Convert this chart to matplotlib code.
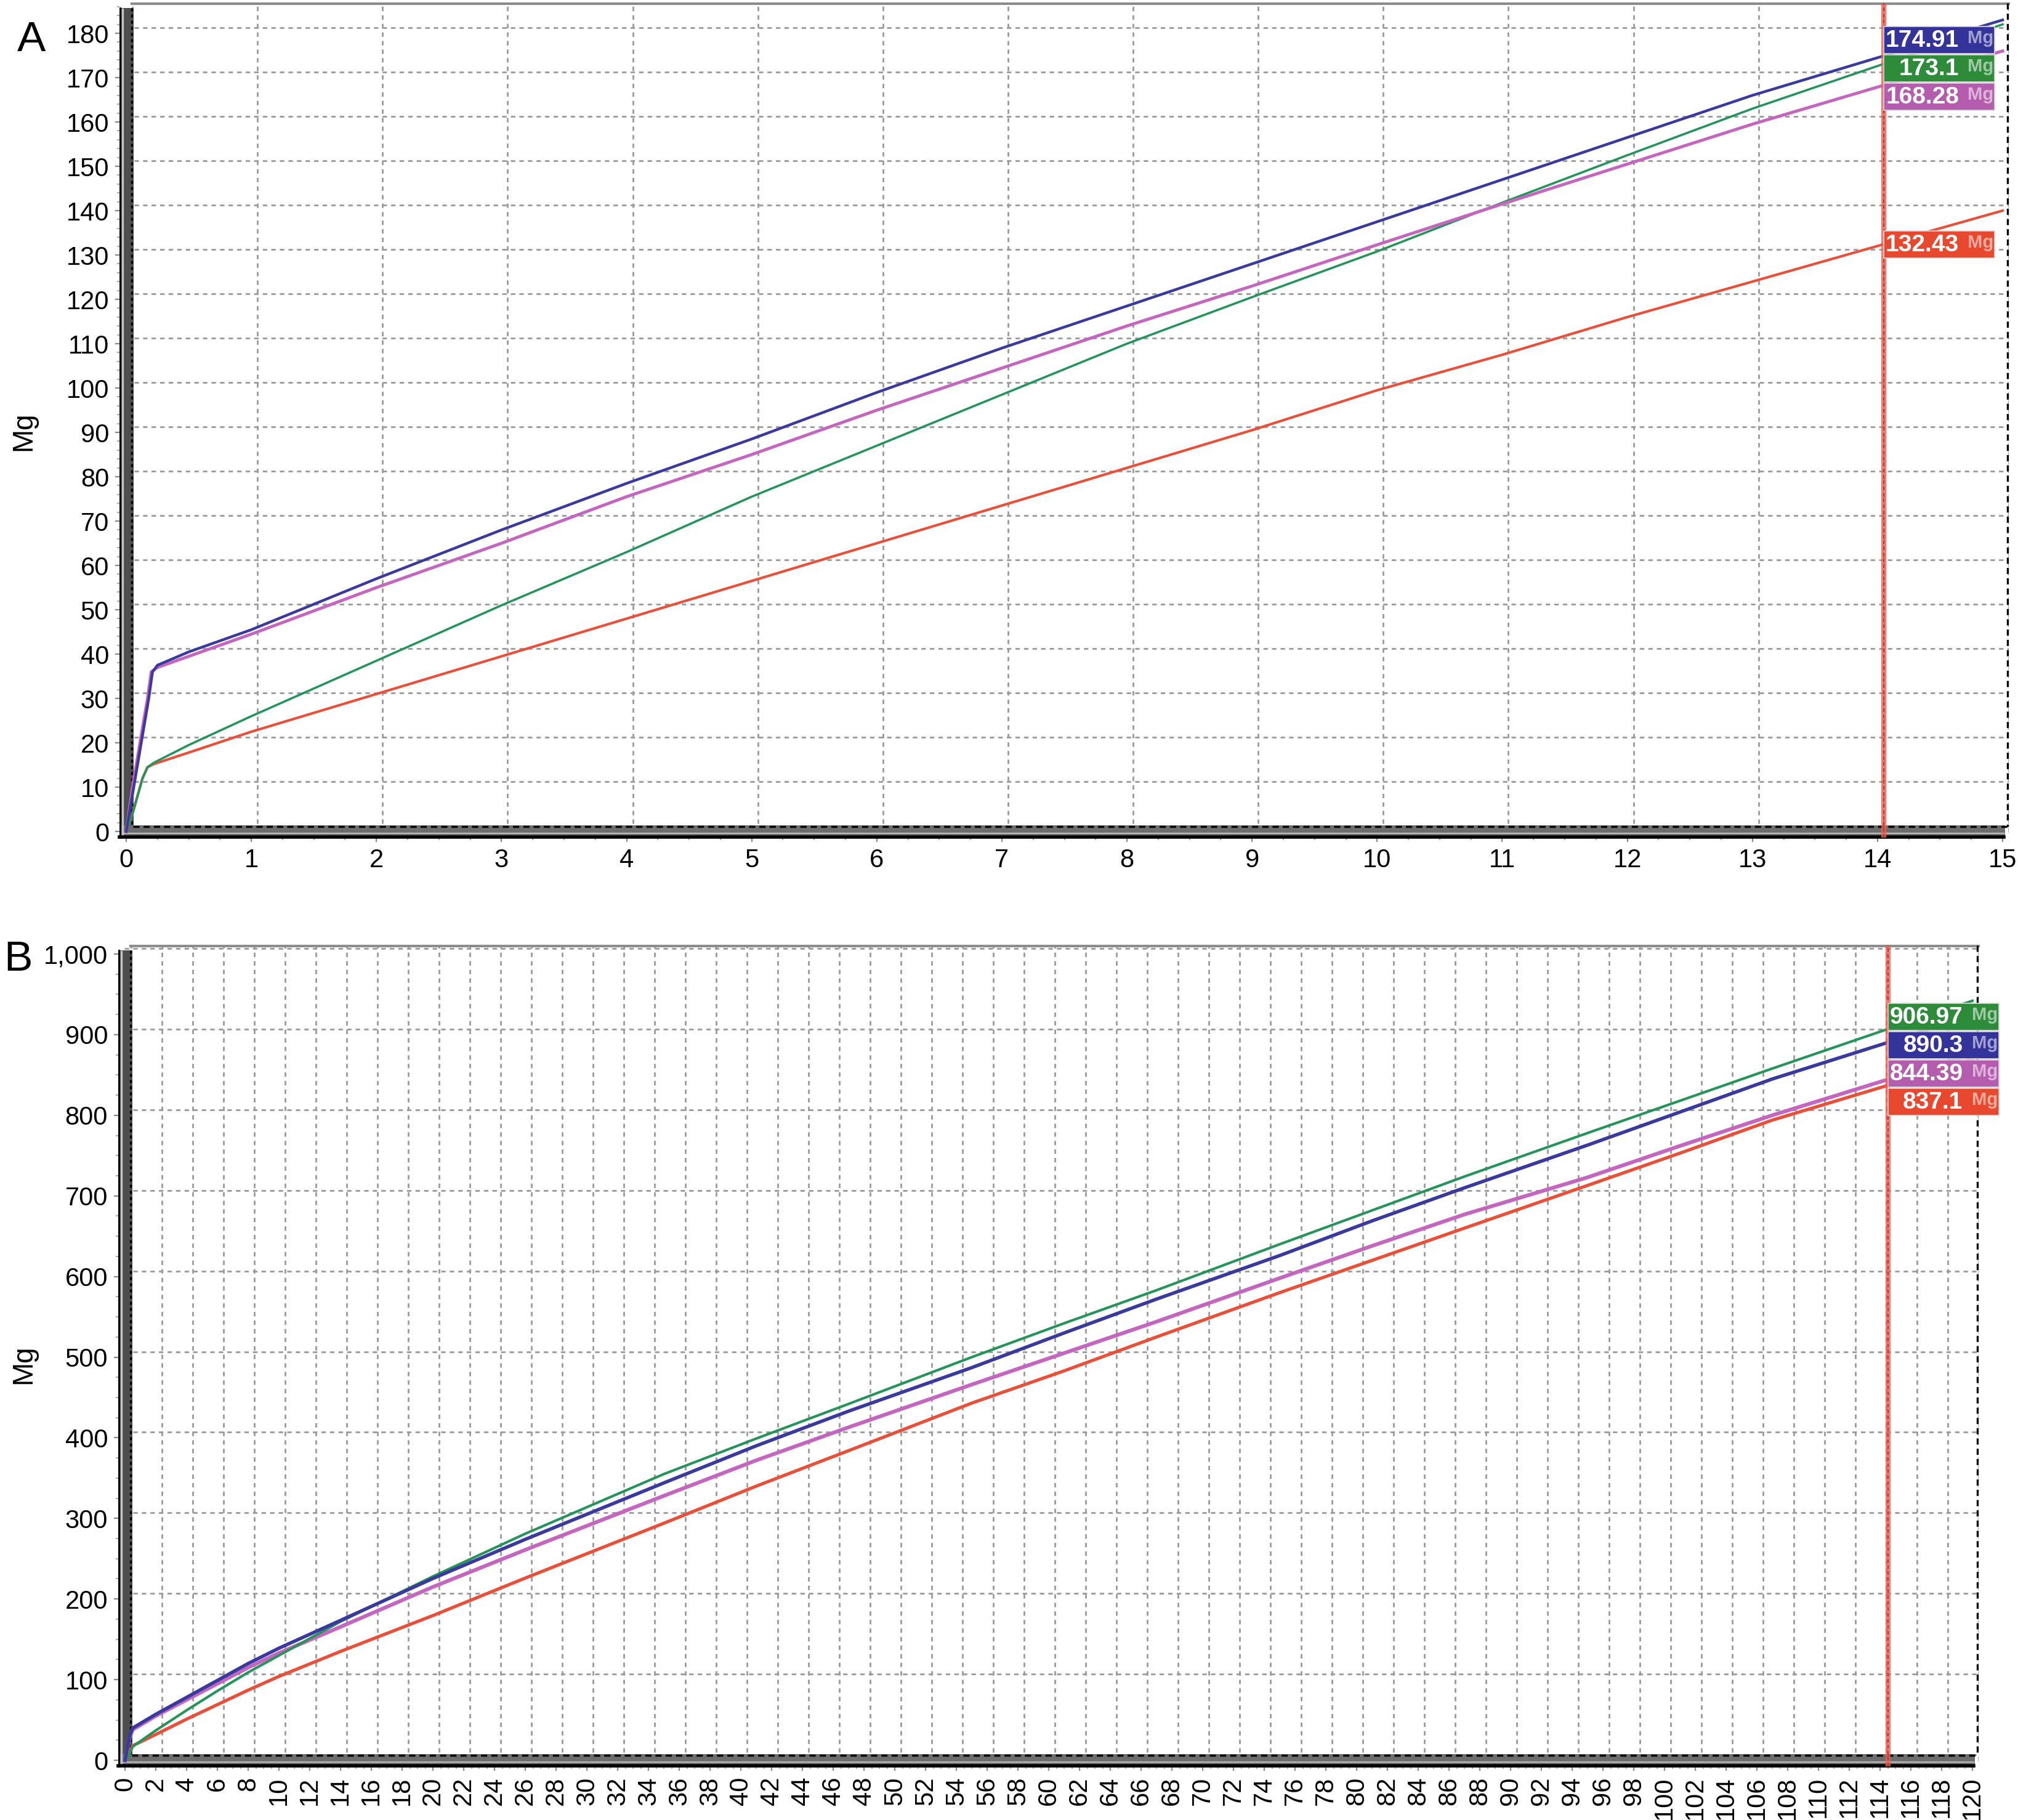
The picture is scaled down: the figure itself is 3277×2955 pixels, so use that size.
import matplotlib
matplotlib.use("Agg")
import matplotlib.pyplot as plt
import matplotlib.transforms as mtransforms
from matplotlib.patches import Rectangle
from matplotlib.ticker import MultipleLocator, FuncFormatter

W, H, DPI = 3277, 2955, 200

# ---- panel A (0-15) ----
a_blue_x = [0.0, 0.06, 0.12, 0.18, 0.21, 0.25, 0.5, 1, 2, 3, 4, 5, 6, 7, 8, 9, 10, 11, 12, 13, 14.05, 15]
a_blue_y = [0, 10, 20, 30, 36, 37.5, 40.5, 45.5, 57, 68, 78.5, 88.5, 99, 109, 118.5, 128, 137.5, 147, 156.5, 166, 174.91, 183]
a_mag_x = [0.0, 0.05, 0.11, 0.17, 0.2, 0.25, 0.5, 1, 2, 3, 4, 5, 6, 7, 8, 9, 10, 11, 12, 13, 14.05, 15]
a_mag_y = [0, 10, 20, 30, 36, 37, 39.5, 44.5, 55, 65, 75.5, 85, 95, 104.5, 114, 123, 132.3, 141.5, 150.5, 159.5, 168.28, 176]
a_green_x = [0.0, 0.04, 0.09, 0.13, 0.17, 0.22, 0.5, 1, 2, 3, 4, 5, 6, 7, 8, 9, 10, 11, 12, 13, 14.05, 15]
a_green_y = [0, 3, 8, 12, 14.5, 15.5, 19.5, 26, 38.5, 51, 63, 75.5, 87, 98.5, 110, 120.5, 130.8, 141.8, 152.5, 163, 173.1, 182]
a_red_x = [0.0, 0.04, 0.09, 0.13, 0.17, 0.22, 0.5, 1, 2, 3, 4, 5, 6, 7, 8, 9, 10, 11, 12, 13, 14.05, 15]
a_red_y = [0, 3, 8, 12, 14.5, 15.2, 17.8, 22.5, 31, 39.5, 48, 56.5, 65, 73.5, 82, 90.5, 99.5, 107.5, 116, 124, 132.43, 140]
a_cursor = 14.05
a_labels = [174.91, 173.1, 168.28, 132.43]   # blue, green, magenta, red

# ---- panel B (0-120) ----
b_x = [0, 0.3, 0.5, 2, 4, 6, 8, 10, 14, 20, 26, 35, 41, 47, 55, 61, 67, 75, 81, 87, 95, 101, 107, 114.5, 120]
b_blue = [0, 30, 40, 57, 78, 99, 120, 139, 173.5, 225.5, 274, 344, 390, 433, 487, 530, 572, 626, 669, 710, 763, 804, 845, 890.3, 924]
b_green = [0, 8, 17, 37, 62, 86, 109, 130, 172, 228, 281, 355, 399, 442, 500, 542, 583, 640, 682, 724, 778, 818, 858, 906.97, 942]
b_mag = [0, 28, 38, 55, 75, 95, 115, 133, 165.5, 215, 261, 328, 372, 413, 466, 505, 544, 598, 638, 677, 723, 762, 800, 844.39, 876]
b_red = [0, 10, 18, 32, 51, 69, 87, 104, 135, 179.5, 226, 294, 340, 384, 443, 483, 525, 580, 620, 660, 713, 753, 794, 837.1, 870]
b_cursor = 114.5
b_labels = [906.97, 890.3, 844.39, 837.1]   # green, blue, magenta, red

line_cols = {'blue': '#3a3a9e', 'green': '#25945a', 'mag': '#c466bf', 'red': '#e8503a'}
box_cols = {'blue': '#333399', 'green': '#2e8b3a', 'mag': '#b45cad', 'red': '#e8492e'}

plt.rcParams['font.family'] = ['Liberation Sans', 'DejaVu Sans']

fig = plt.figure(figsize=(W / DPI, H / DPI), dpi=DPI)
# pixel coords of the output image, y measured downwards
PX = mtransforms.Affine2D().scale(1 / W, -1 / H).translate(0, 1) + fig.transFigure
DISP = mtransforms.IdentityTransform()


def make_axes(box, xref, yref):
    left, top, right, bottom = box
    ax = fig.add_axes([left / W, 1 - bottom / H, (right - left) / W, (bottom - top) / H])
    (xv1, xp1), (xv2, xp2) = xref
    sx = (xp2 - xp1) / (xv2 - xv1)
    ax.set_xlim(xv1 + (left - xp1) / sx, xv1 + (right - xp1) / sx)
    (yv1, yp1), (yv2, yp2) = yref
    sy = (yp2 - yp1) / (yv2 - yv1)
    ax.set_ylim(yv1 + (bottom - yp1) / sy, yv1 + (top - yp1) / sy)
    for s in ax.spines.values():
        s.set_visible(False)
    return ax


def decorate(ax, box, xmaj, xmin, ymaj, ymin):
    left, top, right, bottom = box
    ax.xaxis.set_major_locator(MultipleLocator(xmaj))
    ax.xaxis.set_minor_locator(MultipleLocator(xmin))
    ax.yaxis.set_major_locator(MultipleLocator(ymaj))
    ax.yaxis.set_minor_locator(MultipleLocator(ymin))
    ax.tick_params(which='major', length=2.6, width=0.8, color='#888888',
                   labelsize=15, pad=3.5)
    ax.tick_params(which='minor', length=1.5, width=0.6, color='#999999')
    # dashed grid drawn on the shifted back wall
    off = mtransforms.ScaledTranslation(10 / DPI, 9 / DPI, fig.dpi_scale_trans)
    lo, hi = ax.get_xlim()
    for v in ax.get_xticks():
        if lo < v < hi:
            ax.plot([v, v], [0, 1], transform=ax.get_xaxis_transform() + off,
                    color='#9a9a9a', lw=1.0, dashes=(2.6, 2.4), zorder=1)
    lo, hi = ax.get_ylim()
    for v in ax.get_yticks():
        if lo < v < hi:
            ax.plot([0, 1], [v, v], transform=ax.get_yaxis_transform() + off,
                    color='#9a9a9a', lw=1.0, dashes=(2.6, 2.4), zorder=1)
    # 3d-like wall and floor
    kw = dict(transform=PX, clip_on=False)
    ax.add_patch(Rectangle((left, top + 8), 23, bottom - top - 8, fc='#4e4e4e', ec='none', zorder=1.5, **kw))
    ax.add_patch(Rectangle((left, bottom - 20), right - left - 6, 20, fc='#6d6d6d', ec='none', zorder=1.5, **kw))
    ax.plot([left + 1, left + 1], [top + 8, bottom], color='black', lw=1.0, zorder=1.6, **kw)
    ax.plot([left + 5, left + 5], [top + 10, bottom - 4], color='#c4c4c4', lw=1.2, zorder=1.6, **kw)
    ax.plot([left + 20, left + 20], [top + 8, bottom - 18], color='black', lw=1.2, dashes=(1.5, 1.5), zorder=1.6, **kw)
    ax.plot([left + 22, right], [bottom - 18, bottom - 18], color='black', lw=1.2, dashes=(3, 2), zorder=1.6, **kw)
    ax.plot([left + 8, right - 8], [bottom - 7, bottom - 7], color='#bdbdbd', lw=0.8, zorder=1.6, **kw)
    ax.plot([left, right - 8], [bottom - 1, bottom - 1], color='black', lw=2.0, zorder=1.6, **kw)
    ax.plot([left + 20, right], [top + 1, top + 1], color='#8c8c8c', lw=1.5, zorder=1.6, **kw)
    ax.plot([right - 2, right - 2], [top, bottom - 18], color='black', lw=1.2, dashes=(3, 2), zorder=1.6, **kw)


def stack(ys, pitch):
    order = sorted(range(len(ys)), key=lambda i: -ys[i])
    groups = [[i] for i in order]

    def centers(g):
        m = sum(ys[i] for i in g) / len(g)
        return [m + (len(g) - 1) / 2 * pitch - k * pitch for k in range(len(g))]

    changed = True
    while changed:
        changed = False
        for k in range(len(groups) - 1):
            if centers(groups[k])[-1] - centers(groups[k + 1])[0] < pitch:
                groups[k] = groups[k] + groups[k + 1]
                del groups[k + 1]
                changed = True
                break
    pos = {}
    for g in groups:
        for i, c in zip(g, centers(g)):
            pos[i] = c
    return [pos[i] for i in range(len(ys))]


def value_boxes(ax, xc, values, keys):
    # cursor readout boxes, stacked so they do not overlap
    pts = [ax.transData.transform((xc, v)) for v in values]
    x0 = pts[0][0]
    ycs = stack([p[1] for p in pts], 46)
    for v, k, yc in zip(values, keys, ycs):
        ax.add_patch(Rectangle((x0, yc - 22), 180, 44, transform=DISP, clip_on=False,
                               fc=box_cols[k], ec='#d8d8d8', lw=0.6, zorder=6))
        ax.text(x0 + 122, yc - 1, f'{v:g}', transform=DISP, ha='right', va='center',
                color='white', fontsize=14, fontweight='bold', zorder=7)
        ax.text(x0 + 136, yc + 3, 'Mg', transform=DISP, ha='left', va='center',
                color='white', alpha=0.55, fontsize=10.5, fontweight='bold', zorder=7)


def cursor(ax, xc):
    ax.axvline(xc, color='#ec5f54', lw=3.0, alpha=0.8, zorder=4)
    ax.axvline(xc, color='#b8352a', lw=0.7, dashes=(3, 2), zorder=4.1)


# ---------- panel A ----------
box_a = (194, 5, 3262, 1360)
ax1 = make_axes(box_a, ((0, 205), (15, 3252)), ((0, 1350), (180, 54)))
decorate(ax1, box_a, 1, 0.25, 10, 2)
ax1.plot(a_red_x, a_red_y, color=line_cols['red'], lw=1.5, zorder=3)
ax1.plot(a_green_x, a_green_y, color=line_cols['green'], lw=1.3, zorder=3.1)
ax1.plot(a_mag_x, a_mag_y, color=line_cols['mag'], lw=1.8, zorder=3.2)
ax1.plot(a_blue_x, a_blue_y, color=line_cols['blue'], lw=1.6, zorder=3.3)
cursor(ax1, a_cursor)
value_boxes(ax1, a_cursor, a_labels, ['blue', 'green', 'mag', 'red'])

# ---------- panel B ----------
box_b = (192, 1535, 3213, 2868)
ax2 = make_axes(box_b, ((0, 203), (120, 3203)), ((0, 2858), (1000, 1549)))
decorate(ax2, box_b, 2, 0.5, 100, 25)
ax2.yaxis.set_major_formatter(FuncFormatter(lambda v, p: f'{v:,.0f}'))
ax2.tick_params(axis='x', which='major', labelrotation=90)
ax2.plot(b_x, b_red, color=line_cols['red'], lw=1.9, zorder=3)
ax2.plot(b_x, b_mag, color=line_cols['mag'], lw=2.2, zorder=3.1)
ax2.plot(b_x, b_green, color=line_cols['green'], lw=1.5, zorder=3.2)
ax2.plot(b_x, b_blue, color=line_cols['blue'], lw=2.0, zorder=3.3)
cursor(ax2, b_cursor)
value_boxes(ax2, b_cursor, b_labels, ['green', 'blue', 'mag', 'red'])

# panel letters and axis titles
fig.text(28, 65, 'A', transform=PX, ha='left', va='center', fontsize=25)
fig.text(6, 1558, 'B', transform=PX, ha='left', va='center', fontsize=25)
fig.text(38, 700, 'Mg', transform=PX, ha='center', va='center', rotation=90, fontsize=16.5)
fig.text(38, 2215, 'Mg', transform=PX, ha='center', va='center', rotation=90, fontsize=16.5)

fig.savefig('out.png', dpi=DPI)
